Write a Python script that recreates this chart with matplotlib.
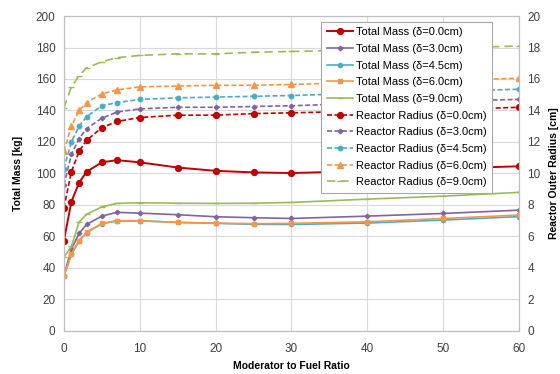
import matplotlib
matplotlib.use('Agg')
import matplotlib.pyplot as plt

plt.rcParams['font.family'] = ['Liberation Sans', 'DejaVu Sans']
plt.rcParams['font.size'] = 8

# moderator to fuel ratio
ratio = [0, 1, 2, 3, 5, 7, 10, 15, 20, 25, 30, 40, 50, 60]

# total mass [kg]
mass_d00 = [57, 82, 94, 101, 107, 108.4, 107, 103.7, 101.6, 100.6, 100.2, 101.5, 103, 104.5]
mass_d30 = [35, 51.7, 61.8, 67.5, 72.8, 75.2, 74.7, 73.7, 72.4, 71.8, 71.3, 72.8, 74.5, 76.6]
mass_d45 = [34.5, 48.5, 57, 62.3, 68, 69.7, 69.8, 68.8, 68.2, 67.6, 67.5, 68.4, 70.3, 72.5]
mass_d60 = [34.5, 48.7, 57.1, 62.5, 68.2, 69.9, 69.9, 68.8, 68.4, 68, 68.2, 69.2, 71.3, 73.5]
mass_d90 = [46.6, 53.5, 69, 73.9, 78.7, 80.9, 81.3, 81, 80.9, 81, 81.5, 83.6, 85.5, 87.9]

# reactor outer radius [cm]
rad_d00 = [7.8, 10.1, 11.4, 12.1, 12.9, 13.3, 13.55, 13.7, 13.7, 13.8, 13.85, 13.95, 14.05, 14.2]
rad_d30 = [9.25, 11.2, 12.2, 12.85, 13.5, 13.9, 14.1, 14.2, 14.2, 14.25, 14.3, 14.45, 14.6, 14.7]
rad_d45 = [10.3, 12.0, 13.0, 13.6, 14.3, 14.5, 14.7, 14.8, 14.85, 14.9, 14.95, 15.1, 15.2, 15.35]
rad_d60 = [11.4, 13.0, 14.0, 14.5, 15.05, 15.3, 15.5, 15.55, 15.6, 15.6, 15.65, 15.8, 15.9, 16.05]
rad_d90 = [14.15, 15.5, 16.2, 16.7, 17.1, 17.35, 17.5, 17.6, 17.6, 17.7, 17.75, 17.85, 17.95, 18.1]

deltas = ['0.0', '3.0', '4.5', '6.0', '9.0']
colors = ['#C00000', '#8064A2', '#4BACC6', '#F79646', '#9BBB59']

fig = plt.figure(figsize=(5.6, 3.74), dpi=100)
ax = fig.add_axes([0.114, 0.116, 0.813, 0.841])
ax2 = ax.twinx()

mass_style = [('o', 4.2, 1.4), ('D', 2.3, 1.2), ('o', 3, 1.2), ('s', 3.2, 1.2), ('_', 4, 1.2)]
rad_style = [('o', 4.2, (3, 1.5)), ('D', 2.3, (3, 1.5)), ('o', 3.2, (3, 1.5)), ('^', 3.8, (3, 1.5)), ('_', 5, (5, 3))]

handles = []
for m, c, d, (mk, ms, lw) in zip([mass_d00, mass_d30, mass_d45, mass_d60, mass_d90],
                                 colors, deltas, mass_style):
    h, = ax.plot(ratio, m, color=c, marker=mk, markersize=ms, linewidth=lw,
                 markeredgecolor=c, label='Total Mass (δ=%scm)' % d)
    handles.append(h)
for r, c, d, (mk, ms, dash) in zip([rad_d00, rad_d30, rad_d45, rad_d60, rad_d90],
                                   colors, deltas, rad_style):
    h, = ax2.plot(ratio, r, color=c, marker=mk, markersize=ms, linewidth=1.2,
                  linestyle=(0, dash), markeredgecolor=c,
                  label='Reactor Radius (δ=%scm)' % d)
    handles.append(h)

ax.set_xlim(0, 60)
ax.set_ylim(0, 200)
ax2.set_ylim(0, 20)
ax.set_xticks(range(0, 61, 10))
ax.set_yticks(range(0, 201, 20))
ax2.set_yticks(range(0, 21, 2))
ax.grid(color='#d9d9d9', linewidth=0.8)
ax.set_axisbelow(True)
for a in (ax, ax2):
    a.tick_params(length=0, labelsize=8.5, colors='#404040', pad=6)
    for s in a.spines.values():
        s.set_color('#bfbfbf')
        s.set_linewidth(0.8)
ax.tick_params(axis='x', pad=9)

ax.set_xlabel('Moderator to Fuel Ratio', fontweight='bold', fontsize=7.5, labelpad=4)
ax.set_ylabel('Total Mass [kg]', fontweight='bold', fontsize=7.5, labelpad=9)
ax2.set_ylabel('Reactor Outer Radius [cm]', fontweight='bold', fontsize=7.5, labelpad=6)

leg = ax2.legend(handles=handles, loc='upper left', bbox_to_anchor=(0.553, 1.0),
                 fontsize=8, labelspacing=0.6, handlelength=2.4, handletextpad=0.2,
                 borderpad=0.5, fancybox=False, framealpha=1, edgecolor='#a6a6a6')
leg.get_frame().set_linewidth(0.8)

fig.savefig('out.png', dpi=100)
